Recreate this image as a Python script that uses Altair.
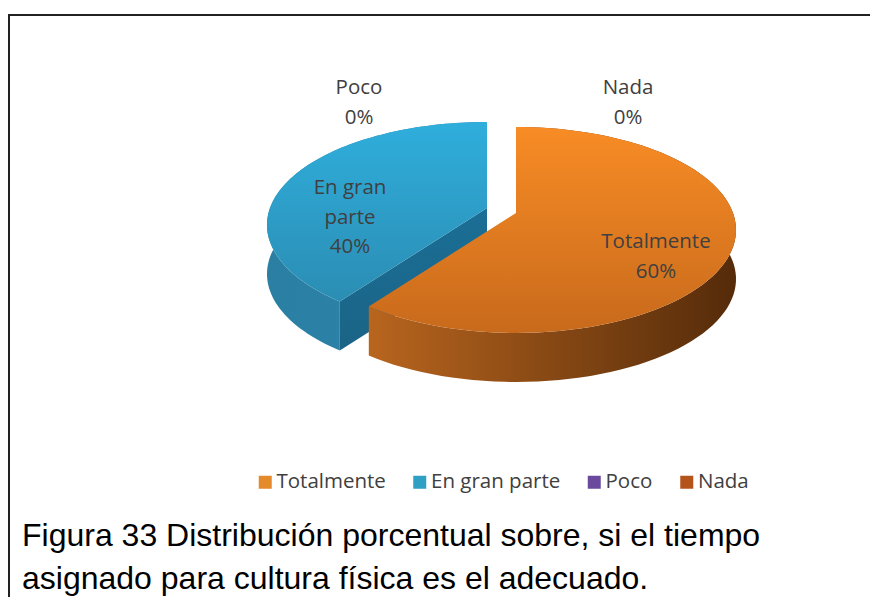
import math
import altair as alt
import pandas as pd

categories = ["Totalmente", "En gran parte", "Poco", "Nada"]
shares = [60, 40, 0, 0]
legend_colors = ["#E58A2B", "#2F9FC4", "#6B4A9E", "#B5541A"]
caption = ["Figura 33 Distribución porcentual sobre, si el tiempo",
           "asignado para cultura física es el adecuado."]

W, H = 862, 589
A, B, K = 217.0, 100.2, 0.165
DEPTH = 49
CX, CY = 516, 213


def proj(t_deg, ox=0.0, oy=0.0, r=1.0):
    t = math.radians(t_deg)
    s, c = math.sin(t) * r, math.cos(t) * r
    d = 1 + K * c
    return CX + ox + A * s / d, CY + oy - B * c / d


def top_face(a0, a1, ox, oy):
    n = 90
    pts = [proj(a0 + (a1 - a0) * i / n, ox, oy) for i in range(n + 1)]
    return pts + [proj(0, ox, oy, 0)]


def side_face(a0, a1, ox, oy):
    n = 90
    arc = [proj(a0 + (a1 - a0) * i / n, ox, oy) for i in range(n + 1)]
    return arc + [(x, y + DEPTH) for x, y in reversed(arc)]


def radial_wall(a, ox, oy):
    p = proj(a, ox, oy)
    o = proj(0, ox, oy, 0)
    return [o, p, (p[0], p[1] + DEPTH), (o[0], o[1] + DEPTH)]


x_scale = alt.Scale(domain=[8, 8 + W], range=[0, W], nice=False, zero=False)
y_scale = alt.Scale(domain=[8, 8 + H], range=[0, H], nice=False, zero=False)


def poly(pts, fill):
    df = pd.DataFrame({"x": [p[0] for p in pts] + [pts[0][0]],
                       "y": [p[1] for p in pts] + [pts[0][1]],
                       "i": range(len(pts) + 1)})
    return alt.Chart(df).mark_line(fill=fill, stroke=None, strokeWidth=0, interpolate="linear-closed").encode(
        x=alt.X("x:Q", scale=x_scale, axis=None),
        y=alt.Y("y:Q", scale=y_scale, axis=None),
        order="i:Q",
    )


def grad(c0, c1, horizontal=False):
    return alt.Gradient(
        gradient="linear",
        stops=[alt.GradientStop(color=c0, offset=0), alt.GradientStop(color=c1, offset=1)],
        x1=0, y1=0, x2=1 if horizontal else 0, y2=0 if horizontal else 1,
    )


split = 360 * shares[0] / sum(shares)
BOX, BOY = -29, -5

layers = [
    poly(side_face(split, 360, BOX, BOY)[:], grad("#2A7FA3", "#2E88AC", True)),
    poly(radial_wall(split, BOX, BOY), grad("#1B6E96", "#1A6486")),
    poly(top_face(split, 360, BOX, BOY), grad("#2FAEDC", "#2B8DB3")),
    poly(side_face(0, split, 0, 0), grad("#B8651E", "#552B0A", True)),
    poly(top_face(0, split, 0, 0), grad("#F88C25", "#C86A1C")),
]

# Data labels
labels = pd.DataFrame({
    "txt": ["Poco", "0%", "Nada", "0%", "En gran", "parte", "40%", "Totalmente", "60%"],
    "x": [359, 359, 628, 628, 350, 350, 350, 656, 656],
    "y": [88, 118, 88, 118, 188, 218, 247, 242, 272],
})
layers.append(alt.Chart(labels).mark_text(font="Open Sans", fontSize=20.5, color="#404040", baseline="middle").encode(
    x=alt.X("x:Q", scale=x_scale, axis=None), y=alt.Y("y:Q", scale=y_scale, axis=None), text="txt:N"))

# Caption
cap = pd.DataFrame({"txt": caption, "x": [22, 22], "y": [546, 589]})
layers.append(alt.Chart(cap).mark_text(font="Liberation Sans", fontSize=32, color="#000000", align="left", baseline="alphabetic").encode(
    x=alt.X("x:Q", scale=x_scale, axis=None), y=alt.Y("y:Q", scale=y_scale, axis=None), text="txt:N"))

# Frame
frame = pd.DataFrame({"x": [9, 9, 878], "y": [605, 15, 15], "i": [0, 1, 2]})
layers.append(alt.Chart(frame).mark_line(color="#222222", strokeWidth=2, clip=True).encode(
    x=alt.X("x:Q", scale=x_scale, axis=None), y=alt.Y("y:Q", scale=y_scale, axis=None), order="i:Q"))

# Legend
leg = pd.DataFrame({"cat": categories, "share": shares})
layers.append(alt.Chart(leg).mark_square(size=0, opacity=0).encode(
    x=alt.value(0), y=alt.value(0),
    color=alt.Color("cat:N", scale=alt.Scale(domain=categories, range=legend_colors),
                    legend=alt.Legend(title=None, orient="none", legendX=247, legendY=464, direction="horizontal",
                                      columns=4, symbolType="square", symbolSize=169, symbolOpacity=1, symbolStrokeWidth=0,
                                      labelFont="Open Sans", labelFontSize=20.5, labelColor="#404040", columnPadding=23.5,
                                      labelOffset=1, gridAlign="none", padding=0)),
))

chart = alt.layer(*layers).properties(width=W, height=H, padding=0, autosize=alt.AutoSizeParams(type="none")).configure_view(stroke=None)
chart.save("out.html", embed_options={"renderer": "svg", "actions": False})
